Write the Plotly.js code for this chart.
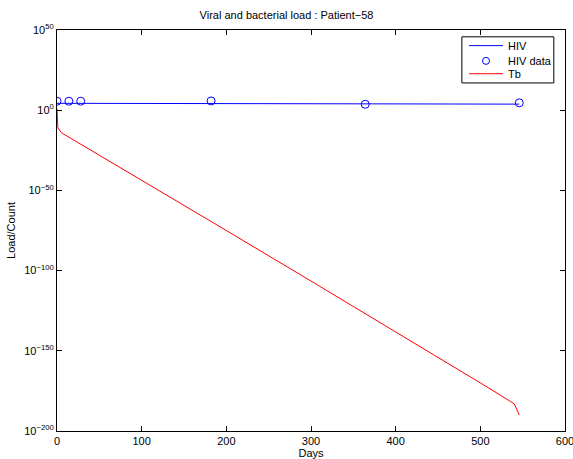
<!DOCTYPE html>
<html>
<head>
<meta charset="utf-8">
<script src="https://cdn.plot.ly/plotly-3.0.1.min.js"></script>
<style>html,body{margin:0;padding:0;background:#fff;}#chart{width:573px;height:459px;}</style>
</head>
<body>
<div id="chart"></div>
<script>
// HIV model curve (days, load)
const hivDays = [0, 14, 28, 90, 182, 273, 364, 455, 546];
const hivLoad = [2.0e4, 1.9e4, 1.8e4, 1.6e4, 1.5e4, 1.3e4, 1.0e4, 8.0e3, 6.0e3];
// HIV measured data
const hivDataDays = [0, 14, 28, 182, 364, 546];
const hivDataLoad = [4e5, 4e5, 4e5, 6e5, 5e3, 4e4];
// Tb count
const tbDays = [0, 0.5, 1, 5, 100, 200, 300, 400, 500, 540, 546];
const tbLoad = [1e1, 1e-6, 1e-11, 1e-14, 3e-44, 1e-75, 3e-107, 1e-138, 1e-170, 1e-183, 1e-190];
// Axis ticks
const xTicks = [0, 100, 200, 300, 400, 500, 600];
const yTickVals = [1e50, 1e0, 1e-50, 1e-100, 1e-150, 1e-200];
const yTickText = ['10<sup>50</sup>', '10<sup>0</sup>', '10<sup>\u221250</sup>', '10<sup>\u2212100</sup>', '10<sup>\u2212150</sup>', '10<sup>\u2212200</sup>'];
// Legend entries
const legendNames = ['HIV', 'HIV data', 'Tb'];

const font = {family: 'Liberation Sans, Arial, sans-serif', size: 11, color: '#000'};
const blue = '#0000ff', red = '#ff0000';

const traces = [
  {x: hivDays, y: hivLoad, type: 'scatter', mode: 'lines', name: legendNames[0],
   line: {color: blue, width: 1}},
  {x: hivDataDays, y: hivDataLoad, type: 'scatter', mode: 'markers', name: legendNames[1],
   marker: {symbol: 'circle-open', size: 8, color: blue, line: {width: 1, color: blue}}},
  {x: tbDays, y: tbLoad, type: 'scatter', mode: 'lines', name: legendNames[2],
   line: {color: red, width: 1}}
];

// Compact MATLAB-style legend box (paper coordinates of the plot area)
const lgX0 = 0.797, lgX1 = 0.978, lgY0 = 0.868, lgY1 = 0.983;
const rowsY = [0.961, 0.923, 0.891];
const sampleX0 = 0.811, sampleX1 = 0.878, textX = 0.884;
const shapes = [
  {type: 'rect', xref: 'paper', yref: 'paper', x0: lgX0, x1: lgX1, y0: lgY0, y1: lgY1,
   line: {color: '#000', width: 1}, fillcolor: '#fff', layer: 'above'},
  {type: 'line', xref: 'paper', yref: 'paper', x0: sampleX0, x1: sampleX1, y0: rowsY[0], y1: rowsY[0],
   line: {color: blue, width: 1}, layer: 'above'},
  {type: 'circle', xref: 'paper', yref: 'paper', xsizemode: 'pixel', ysizemode: 'pixel',
   xanchor: (sampleX0 + sampleX1) / 2, yanchor: rowsY[1], x0: -3.5, x1: 3.5, y0: -3.5, y1: 3.5,
   line: {color: blue, width: 1}, fillcolor: 'rgba(0,0,0,0)', layer: 'above'},
  {type: 'line', xref: 'paper', yref: 'paper', x0: sampleX0, x1: sampleX1, y0: rowsY[2], y1: rowsY[2],
   line: {color: red, width: 1}, layer: 'above'}
];
const annotations = legendNames.map((n, i) => ({
  text: n, xref: 'paper', yref: 'paper', x: textX, y: rowsY[i], xanchor: 'left', yanchor: 'middle',
  showarrow: false, font: font
}));

const layout = {
  width: 573, height: 459,
  margin: {l: 57, r: 8, t: 30, b: 28},
  paper_bgcolor: '#fff', plot_bgcolor: '#fff',
  font: font,
  showlegend: false,
  title: {text: 'Viral and bacterial load : Patient\u221258', font: {family: font.family, size: 11, color: '#000'},
          x: 0.5, xanchor: 'center', y: 0.967, yanchor: 'middle'},
  xaxis: {
    range: [0, 600], tickvals: xTicks, ticktext: xTicks.map(String), ticklabeloverflow: 'allow',
    ticks: 'inside', ticklen: 5, tickcolor: '#000', showline: true, linecolor: '#000', linewidth: 1,
    mirror: 'allticks', showgrid: false, zeroline: false,
    title: {text: 'Days', font: font, standoff: 2}, tickfont: font
  },
  yaxis: {
    type: 'log', range: [-200, 50], tickvals: yTickVals, ticktext: yTickText,
    ticks: 'inside', ticklen: 5, tickcolor: '#000', showline: true, linecolor: '#000', linewidth: 1,
    mirror: 'allticks', showgrid: false, zeroline: false,
    title: {text: 'Load/Count', font: font, standoff: 6}, tickfont: font
  },
  shapes: shapes,
  annotations: annotations
};

Plotly.newPlot('chart', traces, layout, {displayModeBar: false, staticPlot: true});
</script>
</body>
</html>
